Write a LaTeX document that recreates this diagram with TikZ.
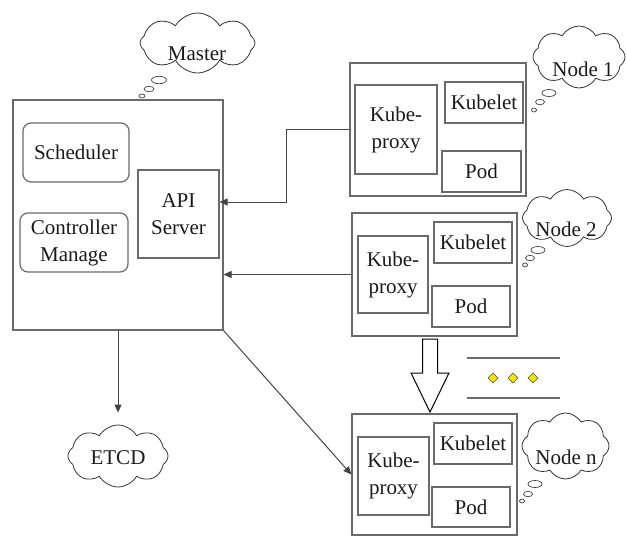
\documentclass[tikz,border=0pt]{standalone}
\usepackage{fontspec}
\setmainfont{Liberation Serif}
\newfontfamily\tnr{Liberation Serif}
\usetikzlibrary{shapes.symbols,arrows.meta}
\definecolor{boxc}{HTML}{6A6A6A}
\definecolor{linec}{HTML}{444444}
\definecolor{txtc}{HTML}{1A1A1A}
\definecolor{dia}{HTML}{F2E600}
\begin{document}
\begin{tikzpicture}[x=1pt,y=-1pt,
  font=\tnr\fontsize{21}{27}\selectfont,
  box/.style={draw=boxc,line width=1.2pt,rectangle,inner sep=0pt,align=center,text=txtc},
  rbox/.style={box,rounded corners=8pt},
  thought/.style={draw=black!80,line width=0.8pt,cloud,cloud puffs=8,cloud puff arc=120,
    cloud ignores aspect,inner sep=0pt},
  ctext/.style={inner sep=0pt,text=txtc},
  bub/.style={draw=black!75,line width=0.7pt},
  arr/.style={draw=linec,line width=1pt,-{Triangle[length=8pt,width=7pt]}}]
\useasboundingbox (0,0) rectangle (627,536);

% Master
\node[box,minimum width=210,minimum height=230] (master) at (118,215) {};
\node[rbox,minimum width=106,minimum height=59] (sched) at (76,152.5) {Scheduler};
\node[rbox,minimum width=108,minimum height=59] (ctrl) at (74,242.5) {Controller\\Manage};
\node[box,minimum width=81,minimum height=88] (api) at (178.5,214) {API\\Server};
\node[thought,minimum width=115,minimum height=60] (mcloud) at (197.5,43) {};
\node[ctext] (mtext) at (197,54) {Master};
\draw[bub] (159,80) ellipse (7.5 and 3.7);
\draw[bub] (149,89) ellipse (5 and 2.7);
\draw[bub] (142,96) ellipse (3 and 2);

% Node 1
\node[box,minimum width=176,minimum height=133] (n1) at (438,129.5) {};
\node[box,minimum width=82,minimum height=89] (kp1) at (396,129.5) {Kube-\\proxy};
\node[box,minimum width=78,minimum height=41] (kl1) at (484,102.5) {Kubelet};
\node[box,minimum width=79,minimum height=41] (pod1) at (481.5,171.5) {Pod};
\node[thought,minimum width=92,minimum height=62] (c1) at (579,57) {};
\node[ctext] (t1) at (583,69) {Node 1};
\draw[bub] (549,93) ellipse (7 and 3.5);
\draw[bub] (540,102) ellipse (4.5 and 2.7);
\draw[bub] (534,110) ellipse (2.5 and 2);

% Node 2
\node[box,minimum width=165,minimum height=123] (n2) at (434.5,274.5) {};
\node[box,minimum width=70,minimum height=77] (kp2) at (393,274.5) {Kube-\\proxy};
\node[box,minimum width=78,minimum height=41] (kl2) at (473,242.5) {Kubelet};
\node[box,minimum width=78,minimum height=41] (pod2) at (471,306.5) {Pod};
\node[thought,minimum width=89,minimum height=57] (c2) at (567,218) {};
\node[ctext] (t2) at (566,229) {Node 2};
\draw[bub] (538,250) ellipse (7 and 3.5);
\draw[bub] (530,258) ellipse (4.5 and 2.7);
\draw[bub] (525,265) ellipse (2.5 and 2);

% Node n
\node[box,minimum width=165,minimum height=121] (nn) at (434.5,474.5) {};
\node[box,minimum width=71,minimum height=78] (kpn) at (393.5,476) {Kube-\\proxy};
\node[box,minimum width=78,minimum height=41] (kln) at (473,443.5) {Kubelet};
\node[box,minimum width=78,minimum height=40] (podn) at (471,507) {Pod};
\node[thought,minimum width=87,minimum height=66] (cn) at (565.5,446) {};
\node[ctext] (tn) at (566,457) {Node n};
\draw[bub] (535,484) ellipse (7 and 3.5);
\draw[bub] (528,494) ellipse (4.5 and 2.7);
\draw[bub] (522,501) ellipse (2.5 and 2);

% ETCD
\node[thought,minimum width=100,minimum height=62] (etcd) at (118,456) {};
\node[ctext] (te) at (118,458) {ETCD};

% connectors
\draw[arr] (n1.west) -- ++(-63,0) |- ([yshift=12pt]api.east);
\draw[arr] (n2.west) -- (master.east |- n2.west);
\draw[arr] (master.south) -- ([yshift=12pt]etcd.north);
\draw[arr] (master.south east) -- (nn.west);

% hollow block arrow
\draw[black,line width=1pt,fill=white,line join=miter]
  (422.5,339) -- (437.5,339) -- (437.5,373) -- (449,373) -- (430,412)
  -- (411,373) -- (422.5,373) -- cycle;

% ellipsis
\draw[boxc,line width=1.2pt] (467,358) -- (560,358);
\draw[boxc,line width=1.2pt] (467,398) -- (560,398);
\foreach \xx in {493,513,533}
  \draw[black!70,fill=dia,line width=0.6pt] (\xx,373) -- (\xx+5,378) -- (\xx,383) -- (\xx-5,378) -- cycle;
\end{tikzpicture}
\end{document}
